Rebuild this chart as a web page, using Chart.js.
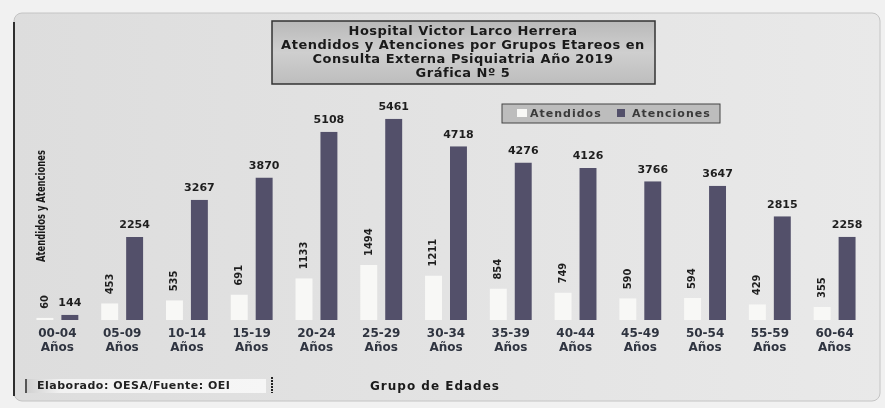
<!DOCTYPE html>
<html>
<head>
<meta charset="utf-8">
<script src="https://cdn.jsdelivr.net/npm/chart.js@4.4.1/dist/chart.umd.min.js"></script>
<style>
  html, body { margin: 0; padding: 0; background: #f2f2f2; }
</style>
</head>
<body>
<canvas id="grupos" width="885" height="408"></canvas>
<script>
const grupos = [
    ['00-04', 'Años'], ['05-09', 'Años'], ['10-14', 'Años'], ['15-19', 'Años'],
    ['20-24', 'Años'], ['25-29', 'Años'], ['30-34', 'Años'], ['35-39', 'Años'],
    ['40-44', 'Años'], ['45-49', 'Años'], ['50-54', 'Años'], ['55-59', 'Años'],
    ['60-64', 'Años']
];
const atendidos = [60, 453, 535, 691, 1133, 1494, 1211, 854, 749, 590, 594, 429, 355];
const atenciones = [144, 2254, 3267, 3870, 5108, 5461, 4718, 4276, 4126, 3766, 3647, 2815, 2258];
const series = ['Atendidos', 'Atenciones'];
const tituloLineas = [
    'Hospital Victor Larco Herrera',
    'Atendidos y Atenciones por Grupos Etareos en',
    'Consulta Externa Psiquiatria Año 2019',
    'Gráfica Nº 5'
];
const tituloX = 'Grupo de Edades';
const tituloY = 'Atendidos y Atenciones';
const fuente = 'Elaborado: OESA/Fuente: OEI';

const colorAtendidos = '#f8f8f6';
const colorAtenciones = '#53506a';
const boldFont = '"DejaVu Sans", sans-serif';
const narrowFont = '"Liberation Sans Narrow", "DejaVu Sans Condensed", sans-serif';

// fondo, marco, cajas de titulo / leyenda / fuente
const marco = {
    id: 'marco',
    beforeDraw(chart) {
        const ctx = chart.ctx;
        ctx.save();
        ctx.fillStyle = '#f1f1f1';
        ctx.fillRect(0, 0, chart.width, chart.height);

        const g = ctx.createLinearGradient(14, 0, 880, 0);
        g.addColorStop(0, '#dddddd');
        g.addColorStop(1, '#e9e9e9');
        ctx.beginPath();
        ctx.roundRect(14, 13, 866, 388, 8);
        ctx.fillStyle = g;
        ctx.fill();
        ctx.strokeStyle = '#c4c4c4';
        ctx.lineWidth = 1;
        ctx.stroke();
        ctx.beginPath();
        ctx.moveTo(14, 22);
        ctx.lineTo(14, 396);
        ctx.strokeStyle = '#2e2e2e';
        ctx.lineWidth = 2;
        ctx.stroke();

        // titulo
        const tg = ctx.createLinearGradient(0, 21, 0, 84);
        tg.addColorStop(0, '#b9b9b9');
        tg.addColorStop(0.5, '#cfcfcf');
        tg.addColorStop(1, '#bdbdbd');
        ctx.fillStyle = tg;
        ctx.fillRect(272, 21, 383, 63);
        ctx.strokeStyle = '#333';
        ctx.lineWidth = 1.5;
        ctx.strokeRect(272, 21, 383, 63);
        ctx.fillStyle = '#1a1a1a';
        ctx.font = 'bold 13px ' + boldFont;
        ctx.letterSpacing = '0.5px';
        ctx.textAlign = 'center';
        ctx.textBaseline = 'middle';
        tituloLineas.forEach((t, i) => ctx.fillText(t, 463, 32 + i * 14, 370));

        // leyenda
        ctx.fillStyle = '#bdbdbd';
        ctx.fillRect(502, 104, 218, 19);
        ctx.strokeStyle = '#444';
        ctx.lineWidth = 1;
        ctx.strokeRect(502, 104, 218, 19);
        ctx.fillStyle = colorAtendidos;
        ctx.fillRect(517, 109, 10, 8);
        ctx.fillStyle = colorAtenciones;
        ctx.fillRect(617, 109, 8, 8);
        ctx.fillStyle = '#3a3a3a';
        ctx.font = 'bold 11px ' + boldFont;
        ctx.letterSpacing = '1px';
        ctx.textAlign = 'left';
        ctx.fillText(series[0], 530, 114);
        ctx.fillText(series[1], 632, 114);

        // fuente
        const fg = ctx.createLinearGradient(25, 0, 266, 0);
        fg.addColorStop(0, '#cfcfcf');
        fg.addColorStop(0.15, '#f2f2f2');
        fg.addColorStop(1, '#f6f6f6');
        ctx.fillStyle = fg;
        ctx.fillRect(25, 379, 241, 14);
        ctx.fillStyle = '#555';
        ctx.fillRect(25, 379, 2, 14);
        ctx.fillStyle = '#222';
        ctx.font = 'bold 11px ' + boldFont;
        ctx.letterSpacing = '0.5px';
        ctx.fillText(fuente, 37, 386, 222);
        ctx.beginPath();
        ctx.setLineDash([2, 1]);
        ctx.moveTo(272, 377);
        ctx.lineTo(272, 393);
        ctx.strokeStyle = '#222';
        ctx.lineWidth = 2;
        ctx.stroke();
        ctx.setLineDash([]);

        // titulos de ejes
        ctx.textAlign = 'center';
        ctx.fillStyle = '#1a1a1a';
        ctx.font = 'bold 12px ' + boldFont;
        ctx.letterSpacing = '1px';
        ctx.fillText(tituloX, 435, 387);
        ctx.letterSpacing = '0px';
        ctx.save();
        ctx.translate(42, 206);
        ctx.rotate(-Math.PI / 2);
        ctx.font = 'bold 12px ' + narrowFont;
        ctx.fillText(tituloY, 0, 0, 112);
        ctx.restore();
        ctx.restore();
    }
};

// etiquetas de valores
const etiquetas = {
    id: 'etiquetas',
    afterDatasetsDraw(chart) {
        const ctx = chart.ctx;
        const m0 = chart.getDatasetMeta(0);
        const m1 = chart.getDatasetMeta(1);
        ctx.save();
        ctx.fillStyle = '#1e1e1e';
        ctx.font = 'bold 11px ' + boldFont;
        ctx.textAlign = 'center';
        ctx.textBaseline = 'bottom';
        m1.data.forEach((bar, i) => ctx.fillText(String(atenciones[i]), bar.x, bar.y - 6));
        ctx.font = 'bold 11px ' + narrowFont;
        m0.data.forEach((bar, i) => {
            ctx.save();
            ctx.translate(bar.x, bar.y - 9);
            ctx.rotate(-Math.PI / 2);
            ctx.textAlign = 'left';
            ctx.textBaseline = 'middle';
            ctx.fillText(String(atendidos[i]), 0, 0);
            ctx.restore();
        });
        ctx.restore();
    }
};

const ctxGrupos = document.getElementById('grupos').getContext('2d');
const grafica = new Chart(ctxGrupos, {
    type: 'bar',
    data: {
        labels: grupos,
        datasets: [{
            label: series[0],
            data: atendidos,
            backgroundColor: colorAtendidos,
            borderColor: 'rgba(0,0,0,0)',
            borderWidth: { left: 4, right: 4, top: 0, bottom: 0 },
            categoryPercentage: 0.77,
            barPercentage: 1
        }, {
            label: series[1],
            data: atenciones,
            backgroundColor: colorAtenciones,
            borderColor: 'rgba(0,0,0,0)',
            borderWidth: { left: 4, right: 4, top: 0, bottom: 0 },
            categoryPercentage: 0.77,
            barPercentage: 1
        }]
    },
    options: {
        responsive: false,
        animation: false,
        layout: {
            padding: { left: 25, right: 18, top: 99, bottom: 48 }
        },
        plugins: {
            legend: { display: false },
            title: { display: false },
            tooltip: { enabled: false }
        },
        scales: {
            x: {
                grid: { display: false, drawTicks: false },
                border: { display: false },
                ticks: {
                    color: '#2f3440',
                    padding: 7,
                    maxRotation: 0,
                    autoSkip: false,
                    font: { family: boldFont, size: 12, weight: 'bold', lineHeight: 1.17 }
                },
                afterFit(scale) { scale.height = 40; }
            },
            y: {
                display: false,
                min: 0,
                max: 6000
            }
        }
    },
    plugins: [marco, etiquetas]
});
</script>
</body>
</html>
